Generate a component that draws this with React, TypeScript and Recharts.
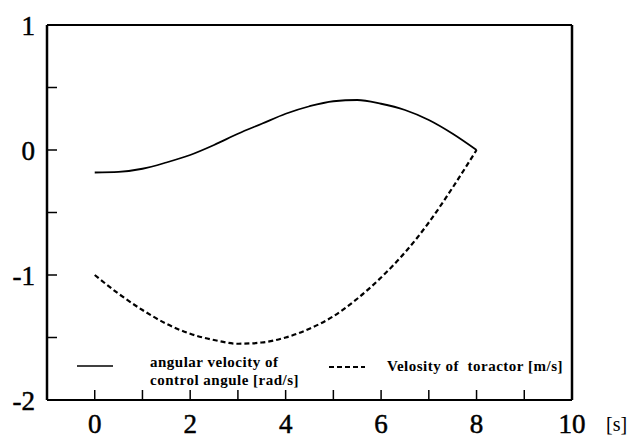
import { Legend, Line, LineChart, XAxis, YAxis } from "recharts";

// time axis [s]
const TIME = [0, 0.5, 1, 1.5, 2, 2.5, 3, 3.5, 4, 4.5, 5, 5.5, 6, 6.5, 7, 7.5, 8];
// angular velocity of control angle [rad/s]
const ANGULAR = [-0.18, -0.175, -0.15, -0.1, -0.04, 0.04, 0.13, 0.21, 0.29, 0.35, 0.39, 0.4, 0.37, 0.32, 0.24, 0.13, 0];
// velocity of tractor [m/s]
const TRACTOR = [-1, -1.15, -1.28, -1.39, -1.47, -1.52, -1.55, -1.54, -1.5, -1.43, -1.33, -1.19, -1.02, -0.82, -0.58, -0.3, 0];

const X_TICKS = [0, 1, 2, 3, 4, 5, 6, 7, 8, 9, 10];
const Y_TICKS = [-2, -1.5, -1, -0.5, 0, 0.5, 1];

const ANGULAR_NAME = "angular velocity of\ncontrol angule [rad/s]";
const TRACTOR_NAME = "Velosity of  toractor [m/s]";

const data = TIME.map((t, i) => ({ t, angular: ANGULAR[i], tractor: TRACTOR[i] }));

const SERIF = "Liberation Serif, Times New Roman, serif";
const axisStroke = { stroke: "#000", strokeWidth: 2 };
const tickStroke = { stroke: "#000", strokeWidth: 1.5 };

// only every other time tick carries a number
function XTick({ x, y, payload }: any) {
  const v = payload.value;
  if (v % 2 !== 0) return null;
  return (
    <text x={x} y={y} dy="0.71em" textAnchor="middle" fontFamily={SERIF} fontSize={27} fill="#000" stroke="#000" strokeWidth={0.5}>
      {v}
    </text>
  );
}

// half-unit ticks are unlabeled
function YTick({ x, y, payload }: any) {
  const v = payload.value;
  if (!Number.isInteger(v)) return null;
  return (
    <text x={x} y={y} dy="0.355em" textAnchor="end" fontFamily={SERIF} fontSize={27} fill="#000" stroke="#000" strokeWidth={0.5}>
      {v}
    </text>
  );
}

function renderLegend(props: any) {
  const items = props.payload || [];
  const find = (key: string) => items.find((p: any) => p.dataKey === key);
  const a = find("angular");
  const v = find("tractor");
  const textStyle: React.CSSProperties = {
    position: "absolute",
    fontFamily: SERIF,
    fontWeight: "bold",
    fontSize: 15,
    letterSpacing: 0.5,
    lineHeight: "18px",
    whiteSpace: "pre",
    color: "#000",
  };
  return (
    <div style={{ position: "relative", width: 634, height: 441 }}>
      <svg style={{ position: "absolute", left: 76, top: 360 }} width={38} height={10}>
        <line x1={1} y1={6} x2={37} y2={6} stroke="#000" strokeWidth={1.6} />
      </svg>
      <div style={{ ...textStyle, left: 150, top: 353 }}>{a ? a.value : ""}</div>
      <svg style={{ position: "absolute", left: 328, top: 361 }} width={38} height={10}>
        <line x1={1} y1={6} x2={37} y2={6} stroke="#000" strokeWidth={2} strokeDasharray="5 3" />
      </svg>
      <div style={{ ...textStyle, left: 387, top: 357 }}>{v ? v.value : ""}</div>
    </div>
  );
}

export default function App() {
  return (
    <div style={{ position: "absolute", left: 0, top: 0, width: 634, height: 441, background: "#fff" }}>
      <LineChart width={634} height={441} data={data} margin={{ top: 0, right: 0, bottom: 0, left: 0 }}>
        <XAxis
          dataKey="t"
          type="number"
          domain={[-1, 10]}
          ticks={X_TICKS}
          interval={0}
          height={41}
          axisLine={axisStroke}
          tickLine={tickStroke}
          tickSize={-10}
          tickMargin={24}
          tick={<XTick />}
          label={{ value: "[s]", position: "right", offset: 34, dy: 3, fontFamily: SERIF, fontSize: 20, fill: "#000" }}
        />
        <XAxis
          xAxisId="top"
          orientation="top"
          dataKey="t"
          type="number"
          domain={[-1, 10]}
          ticks={X_TICKS}
          interval={0}
          height={25}
          axisLine={axisStroke}
          tickLine={tickStroke}
          tickSize={-10}
          tick={false}
        />
        <YAxis
          type="number"
          domain={[-2, 1]}
          ticks={Y_TICKS}
          interval={0}
          width={47}
          axisLine={{ stroke: "#000", strokeWidth: 2.5 }}
          tickLine={tickStroke}
          tickSize={-10}
          tickMargin={22}
          tick={<YTick />}
        />
        <YAxis
          yAxisId="right"
          orientation="right"
          type="number"
          domain={[-2, 1]}
          ticks={Y_TICKS}
          interval={0}
          width={62}
          axisLine={{ stroke: "#000", strokeWidth: 2.5 }}
          tickLine={tickStroke}
          tickSize={-10}
          tick={false}
        />
        <Legend
          layout="vertical"
          align="center"
          verticalAlign="middle"
          content={renderLegend}
          wrapperStyle={{ left: 0, top: 0, width: 634, height: 441, pointerEvents: "none" }}
        />
        <Line
          name={ANGULAR_NAME}
          dataKey="angular"
          type="monotone"
          stroke="#000"
          strokeWidth={1.8}
          dot={false}
          isAnimationActive={false}
        />
        <Line
          name={TRACTOR_NAME}
          dataKey="tractor"
          type="monotone"
          stroke="#000"
          strokeWidth={2.2}
          strokeDasharray="5 3"
          dot={false}
          isAnimationActive={false}
        />
      </LineChart>
    </div>
  );
}
